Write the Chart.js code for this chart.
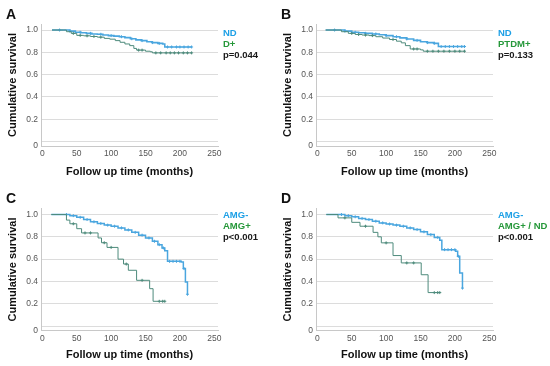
<!DOCTYPE html>
<html lang="en">
<head>
    <meta charset="UTF-8">
    <title>Kaplan-Meier survival curves</title>
    <script src="https://cdn.jsdelivr.net/npm/chart.js"></script>
    <style>
        body { margin: 0; background: #fff; }
        #wrap { position: relative; width: 550px; height: 366px; background: #fff; font-family: "Liberation Sans", Arial, sans-serif; }
        .panel { position: absolute; width: 275px; height: 183px; }
        .panel canvas { position: absolute; left: 0; top: 0; }
        .letter { position: absolute; left: 6px; font-size: 14px; font-weight: bold; line-height: 14px; color: #111; }
        .legend { position: absolute; left: 223px; font-size: 9.5px; font-weight: bold; line-height: 11px; white-space: nowrap; }
        .blue { color: #1ea0e6; }
        .green { color: #26983a; }
        .pval { color: #1a1a1a; }
    </style>
</head>
<body>
<div id="wrap">
    <div class="panel" style="left:0;top:0">
        <canvas id="chartA" width="275" height="183"></canvas>
        <div class="letter" style="top:6.5px">A</div>
        <div class="legend" style="top:27px"><div class="blue">ND</div><div class="green">D+</div><div class="pval">p=0.044</div></div>
    </div>
    <div class="panel" style="left:275px;top:0">
        <canvas id="chartB" width="275" height="183"></canvas>
        <div class="letter" style="top:6.5px">B</div>
        <div class="legend" style="top:27px"><div class="blue">ND</div><div class="green">PTDM+</div><div class="pval">p=0.133</div></div>
    </div>
    <div class="panel" style="left:0;top:183px">
        <canvas id="chartC" width="275" height="183"></canvas>
        <div class="letter" style="top:8px">C</div>
        <div class="legend" style="top:26px"><div class="blue">AMG-</div><div class="green">AMG+</div><div class="pval">p&lt;0.001</div></div>
    </div>
    <div class="panel" style="left:275px;top:183px">
        <canvas id="chartD" width="275" height="183"></canvas>
        <div class="letter" style="top:8px">D</div>
        <div class="legend" style="top:26px"><div class="blue">AMG-</div><div class="green">AMG+ / ND</div><div class="pval">p&lt;0.001</div></div>
    </div>
</div>

<script>
    // 축 눈금
    const xTicks = [0, 50, 100, 150, 200, 250];
    const yTicks = [0, 0.2, 0.4, 0.6, 0.8, 1.0];

    // A: ND vs D+
    const aNdTime = [14, 33, 40, 48, 56, 64, 72, 80, 88, 96, 104, 112, 120, 128, 136, 144, 152, 160, 168, 175, 178, 217];
    const aNdSurv = [1.0, 1.0, 0.99, 0.98, 0.975, 0.97, 0.965, 0.962, 0.955, 0.95, 0.945, 0.94, 0.932, 0.922, 0.912, 0.905, 0.895, 0.887, 0.88, 0.875, 0.848, 0.848];
    const aNdCens = [25, 40, 55, 70, 85, 100, 115, 130, 145, 160, 170, 182, 188, 195, 200, 206, 212, 217];
    const aDTime = [14, 31, 35, 42, 50, 60, 70, 80, 90, 98, 106, 113, 120, 127, 133, 137, 150, 157, 160, 217];
    const aDSurv = [1.0, 1.0, 0.985, 0.97, 0.952, 0.948, 0.942, 0.936, 0.925, 0.918, 0.905, 0.89, 0.875, 0.86, 0.835, 0.82, 0.81, 0.805, 0.795, 0.795];
    const aDCens = [45, 55, 65, 75, 85, 140, 145, 165, 172, 180, 186, 192, 198, 205, 211, 217];

    // B: ND vs PTDM+
    const bNdTime = [12, 30, 40, 50, 60, 70, 80, 90, 100, 110, 120, 130, 140, 150, 160, 170, 176, 214];
    const bNdSurv = [1.0, 1.0, 0.99, 0.98, 0.975, 0.97, 0.965, 0.958, 0.95, 0.94, 0.93, 0.92, 0.907, 0.895, 0.887, 0.88, 0.852, 0.852];
    const bNdCens = [25, 40, 55, 70, 85, 100, 115, 130, 145, 160, 170, 180, 186, 192, 198, 204, 210, 214];
    const bPtTime = [12, 30, 35, 45, 55, 65, 75, 85, 95, 105, 115, 122, 128, 135, 150, 154, 214];
    const bPtSurv = [1.0, 1.0, 0.985, 0.97, 0.96, 0.955, 0.95, 0.94, 0.928, 0.915, 0.9, 0.885, 0.86, 0.83, 0.822, 0.81, 0.81];
    const bPtCens = [50, 60, 70, 80, 110, 140, 145, 160, 168, 176, 184, 192, 200, 207, 214];

    // C: AMG- vs AMG+
    const cNegTime = [13, 31, 40, 50, 60, 70, 80, 90, 100, 110, 120, 130, 140, 150, 160, 168, 174, 178, 182, 202, 205, 208, 211];
    const cNegSurv = [1.0, 1.0, 0.99, 0.975, 0.955, 0.935, 0.92, 0.905, 0.895, 0.88, 0.862, 0.84, 0.815, 0.79, 0.76, 0.73, 0.70, 0.675, 0.58, 0.575, 0.515, 0.395, 0.285];
    const cNegCens = [35, 45, 55, 65, 75, 85, 95, 105, 115, 125, 135, 145, 155, 163, 170, 176, 185, 190, 195, 200, 206, 211];
    const cPosTime = [13, 33, 35, 40, 50, 57, 81, 86, 94, 110, 118, 125, 137, 156, 161, 178];
    const cPosSurv = [1.0, 1.0, 0.95, 0.917, 0.873, 0.835, 0.79, 0.747, 0.705, 0.60, 0.556, 0.50, 0.41, 0.335, 0.222, 0.222];
    const cPosCens = [45, 62, 70, 90, 100, 122, 145, 170, 175, 178];

    // D: AMG- vs AMG+ / ND
    const dNegTime = [13, 30, 40, 50, 60, 70, 80, 90, 100, 110, 120, 130, 140, 150, 160, 170, 178, 181, 201, 204, 207, 211];
    const dNegSurv = [1.0, 1.0, 0.99, 0.98, 0.965, 0.955, 0.94, 0.925, 0.915, 0.905, 0.895, 0.88, 0.865, 0.845, 0.82, 0.795, 0.77, 0.685, 0.67, 0.625, 0.475, 0.34];
    const dNegCens = [35, 45, 55, 65, 75, 85, 95, 105, 115, 125, 135, 145, 155, 165, 175, 185, 190, 195, 200, 205, 211];
    const dPosTime = [13, 30, 50, 62, 81, 88, 93, 110, 122, 151, 161, 178];
    const dPosSurv = [1.0, 0.97, 0.93, 0.895, 0.84, 0.80, 0.746, 0.632, 0.566, 0.46, 0.30, 0.30];
    const dPosCens = [40, 70, 100, 130, 140, 170, 175, 178];

    const blue = '#4aa6df';
    const green = '#4e8b7c';

    // 계단 곡선에서 중도절단 시점의 생존율 읽기
    function survAt(times, surv, t) {
        let s = surv[0];
        for (let i = 0; i < times.length; i++) {
            if (times[i] <= t) s = surv[i];
        }
        return s;
    }

    function kmDatasets(times, surv, cens, color, width) {
        return [
            {
                data: times.map((t, i) => ({ x: t, y: surv[i] })),
                borderColor: color,
                borderWidth: width,
                stepped: true,
                pointRadius: 0,
                fill: false
            },
            {
                data: cens.map(t => ({ x: t, y: survAt(times, surv, t) })),
                showLine: false,
                pointStyle: 'cross',
                pointRadius: 1.5,
                borderColor: color,
                borderWidth: 1,
                backgroundColor: color
            }
        ];
    }

    function makeChart(id, topPad, xHeight, datasets) {
        new Chart(document.getElementById(id), {
            type: 'line',
            data: { datasets: datasets },
            options: {
                responsive: false,
                animation: false,
                devicePixelRatio: 1,
                layout: { padding: { top: topPad, right: 57, left: 0, bottom: 0 } },
                plugins: { legend: { display: false }, tooltip: { enabled: false } },
                scales: {
                    x: {
                        type: 'linear',
                        min: -2,
                        max: 255.4,
                        afterFit: s => { s.height = xHeight; },
                        afterBuildTicks: s => { s.ticks = xTicks.map(v => ({ value: v })); },
                        grid: { display: false, drawTicks: false },
                        border: { color: '#c8c8c8' },
                        ticks: { color: '#555', font: { size: 8.5, family: 'Liberation Sans' }, padding: 3, maxRotation: 0 },
                        title: {
                            display: true,
                            text: 'Follow up time (months)',
                            color: '#111',
                            font: { size: 11, weight: 'bold', family: 'Liberation Sans' },
                            padding: { top: 0, bottom: 4 }
                        }
                    },
                    y: {
                        min: -0.04,
                        max: 1.054,
                        afterFit: s => { s.width = 41; },
                        afterBuildTicks: s => {
                            s.ticks = [{ value: -0.04 }].concat(yTicks.map(v => ({ value: v })));
                        },
                        grid: { color: '#dcdcdc', drawTicks: false },
                        border: { color: '#c8c8c8' },
                        ticks: {
                            color: '#555',
                            font: { size: 8.5, family: 'Liberation Sans' },
                            padding: 3,
                            callback: v => v < 0 ? '0' : (v === 0 ? '' : v.toFixed(1))
                        },
                        title: {
                            display: true,
                            text: 'Cumulative survival',
                            color: '#111',
                            font: { size: 11, weight: 'bold', family: 'Liberation Sans' },
                            padding: { top: 6, bottom: 0 }
                        }
                    }
                }
            }
        });
    }

    makeChart('chartA', 24, 37, kmDatasets(aDTime, aDSurv, aDCens, green, 1).concat(kmDatasets(aNdTime, aNdSurv, aNdCens, blue, 1.6)));
    makeChart('chartB', 24, 37, kmDatasets(bPtTime, bPtSurv, bPtCens, green, 1).concat(kmDatasets(bNdTime, bNdSurv, bNdCens, blue, 1.6)));
    makeChart('chartC', 25.5, 35.5, kmDatasets(cPosTime, cPosSurv, cPosCens, green, 1).concat(kmDatasets(cNegTime, cNegSurv, cNegCens, blue, 1.5)));
    makeChart('chartD', 25.5, 35.5, kmDatasets(dPosTime, dPosSurv, dPosCens, green, 1).concat(kmDatasets(dNegTime, dNegSurv, dNegCens, blue, 1.5)));
</script>
</body>
</html>
